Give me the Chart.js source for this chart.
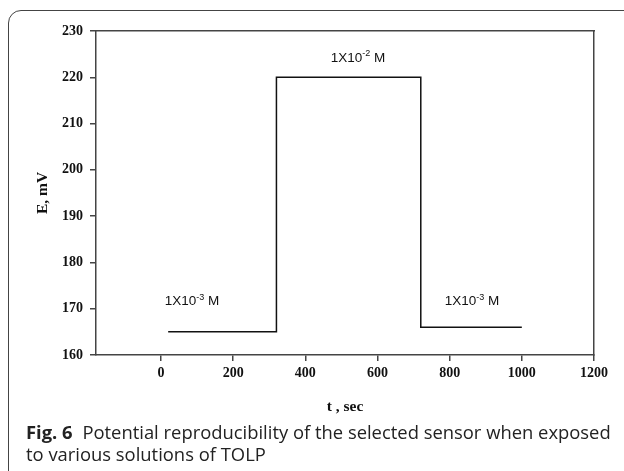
<!DOCTYPE html>
<html>
<head>
<meta charset="utf-8">
<script src="https://cdn.jsdelivr.net/npm/chart.js@4"></script>
<style>
    html, body { margin: 0; padding: 0; background: #fff; }
    #wrap { position: relative; width: 624px; height: 471px; overflow: hidden; }
    #frame {
        position: absolute; left: 8px; top: 10px; width: 700px; height: 600px;
        border: 1.5px solid #444; border-radius: 13px; box-sizing: border-box;
    }
    #chart { position: absolute; left: 0; top: 0; }
    #caption {
        position: absolute; left: 26px; top: 421px; white-space: nowrap;
        font-family: "Open Sans", sans-serif; font-size: 18.4px; line-height: 21.5px; color: #222;
    }
    #caption b { font-weight: 700; margin-right: 5px; }
</style>
</head>
<body>
<div id="wrap">
    <div id="frame"></div>
    <canvas id="chart" width="624" height="471"></canvas>
    <div id="caption"><b>Fig. 6</b> Potential reproducibility of the selected sensor when exposed<br>to various solutions of TOLP</div>
</div>
<script>
    // step response, t (sec) vs E (mV)
    const timeValues = [20, 320, 320, 720, 720, 1000];
    const potentialValues = [165, 165, 220, 220, 166, 166];

    const xTicks = [0, 200, 400, 600, 800, 1000, 1200];
    const yTicks = [160, 170, 180, 190, 200, 210, 220, 230];

    // concentration labels: anchor in data units
    const labelBase = ['1X10', '1X10', '1X10'];
    const labelExp = ['-3', '-2', '-3'];
    const labelX = [86, 546, 862];
    const labelY = [171.5, 224.2, 171.5];

    const serif = '"Liberation Serif", "Times New Roman", serif';
    const tickFont = { family: serif, size: 14, weight: 'bold' };
    const titleFont = { family: serif, size: 15.5, weight: 'bold' };
    const axisColor = '#444';

    const concLabels = {
        id: 'concLabels',
        afterDatasetsDraw(chart) {
            const { ctx, scales } = chart;
            const big = '13.5px "Liberation Sans", Arial, sans-serif';
            const small = '9px "Liberation Sans", Arial, sans-serif';
            ctx.save();
            ctx.fillStyle = '#111';
            ctx.textBaseline = 'middle';
            ctx.textAlign = 'left';
            for (let i = 0; i < labelBase.length; i++) {
                const px = scales.x.getPixelForValue(labelX[i]);
                const py = scales.y.getPixelForValue(labelY[i]);
                ctx.font = big;
                const w1 = ctx.measureText(labelBase[i]).width;
                const w3 = ctx.measureText(' M').width;
                ctx.font = small;
                const w2 = ctx.measureText(labelExp[i]).width;
                let x = px - (w1 + w2 + w3) / 2;
                ctx.font = big;
                ctx.fillText(labelBase[i], x, py);
                x += w1;
                ctx.font = small;
                ctx.fillText(labelExp[i], x, py - 4.5);
                x += w2;
                ctx.font = big;
                ctx.fillText(' M', x, py);
            }
            ctx.restore();
        }
    };

    new Chart(document.getElementById('chart').getContext('2d'), {
        type: 'line',
        data: {
            datasets: [{
                data: timeValues.map((t, i) => ({ x: t, y: potentialValues[i] })),
                borderColor: '#111',
                borderWidth: 1.5,
                pointRadius: 0,
                tension: 0,
                fill: false
            }]
        },
        options: {
            responsive: false,
            animation: false,
            layout: { padding: { left: 30, top: 31, right: 30, bottom: 51 } },
            plugins: { legend: { display: false }, tooltip: { enabled: false } },
            scales: {
                x: {
                    type: 'linear',
                    min: -180,
                    max: 1200,
                    afterBuildTicks: (axis) => { axis.ticks = xTicks.map(v => ({ value: v })); },
                    afterFit: (axis) => { axis.height = 65; },
                    border: { display: true, color: axisColor, width: 1.5 },
                    grid: { drawOnChartArea: false, drawTicks: true, tickLength: 6, color: axisColor, lineWidth: 1.5 },
                    ticks: { font: tickFont, color: '#111', padding: 4, maxRotation: 0, callback: (v) => String(v) },
                    title: { display: true, text: 't , sec', font: titleFont, color: '#111', padding: { top: 7 } }
                },
                y: {
                    min: 160,
                    max: 230,
                    afterBuildTicks: (axis) => { axis.ticks = yTicks.map(v => ({ value: v })); },
                    afterFit: (axis) => { axis.width = 66; },
                    border: { display: true, color: axisColor, width: 1.5 },
                    grid: { drawOnChartArea: false, drawTicks: true, tickLength: 6, color: axisColor, lineWidth: 1.5 },
                    ticks: { font: tickFont, color: '#111', padding: 7, callback: (v) => String(v) },
                    title: { display: true, text: 'E, mV', font: titleFont, color: '#111' }
                },
                x2: {
                    type: 'linear', position: 'top', min: -180, max: 1200,
                    ticks: { display: false },
                    afterFit: (axis) => { axis.height = 0; },
                    grid: { display: false },
                    border: { display: true, color: axisColor, width: 1.5 }
                },
                y2: {
                    position: 'right', min: 160, max: 230,
                    ticks: { display: false },
                    afterFit: (axis) => { axis.width = 0; },
                    grid: { display: false },
                    border: { display: true, color: axisColor, width: 1.5 }
                }
            }
        },
        plugins: [concLabels]
    });
</script>
</body>
</html>
